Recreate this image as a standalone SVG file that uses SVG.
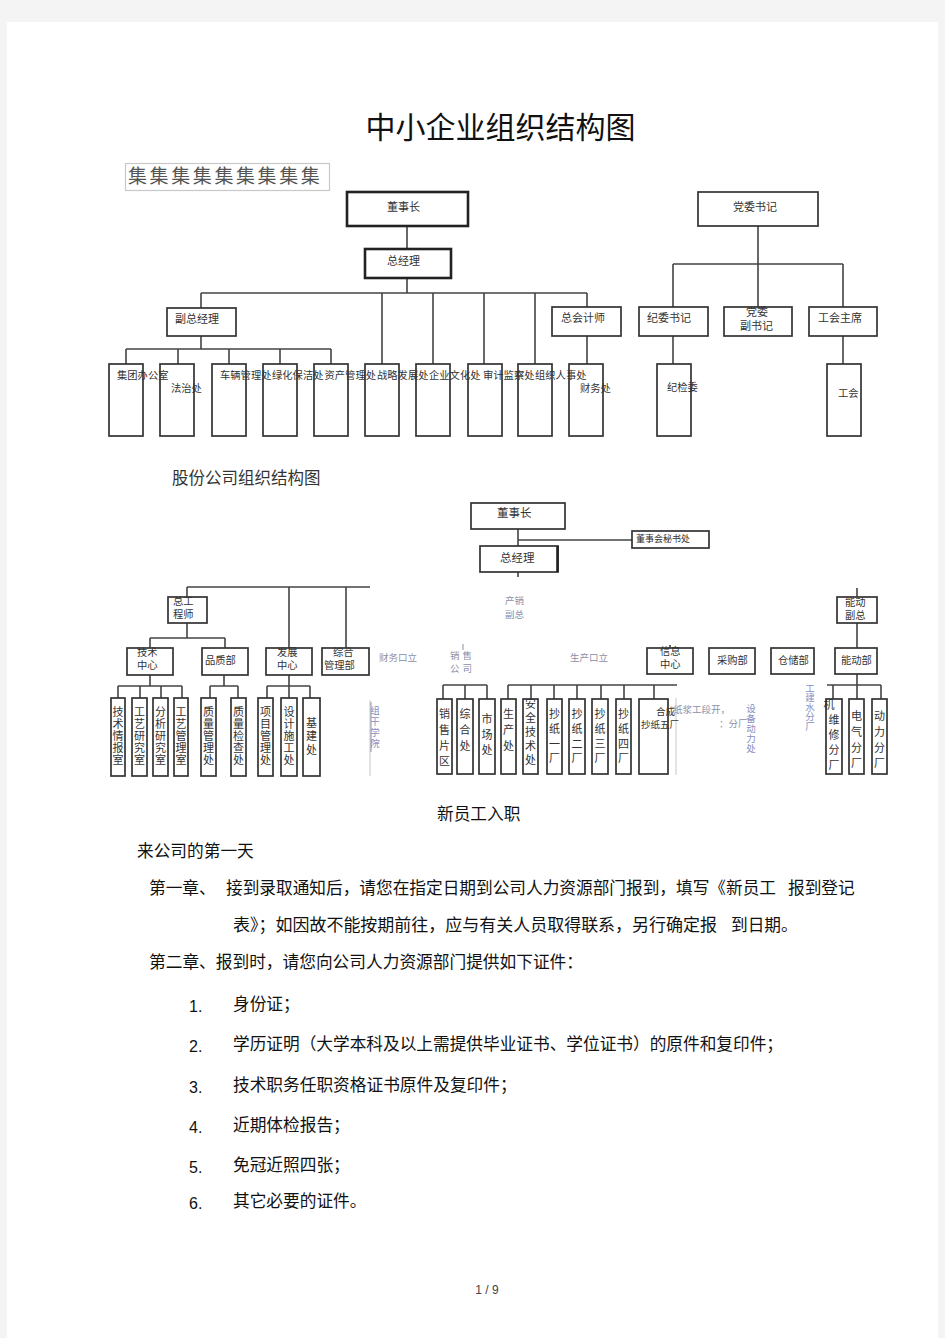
<svg xmlns="http://www.w3.org/2000/svg" width="945" height="1338" viewBox="0 0 945 1338">
<style>
.bx{fill:#fff;stroke:#333;stroke-width:1.7}
.bk{fill:#fff;stroke:#222;stroke-width:2.6}
.ln{stroke:#444;stroke-width:1.6;fill:none}
.fl{stroke:#c8c8c8;stroke-width:1;fill:none}
.t{font-family:"Noto Sans CJK SC","Noto Sans CJK JP",sans-serif;fill:#333}
.s10{font-size:10.3px}
.s11{font-size:11px}
.v{font-family:"Noto Sans CJK SC",sans-serif;fill:#333;font-size:11px;text-anchor:middle}
.fd{font-family:"Noto Sans CJK SC",sans-serif;fill:#8c8fa8;font-size:9.5px}
.fv{font-family:"Noto Sans CJK SC",sans-serif;fill:#8a8fc0;font-size:9.5px;text-anchor:middle}
.bt{font-family:"Noto Sans CJK SC",sans-serif;fill:#111;font-size:16.7px}
.nm{font-family:"Liberation Sans",sans-serif;fill:#111;font-size:16px}
</style>
<rect x="0" y="0" width="945" height="1338" fill="#f4f4f4"/>
<rect x="7" y="22" width="931" height="1316" fill="#fff"/>

<text class="t" x="500.5" y="138" font-size="30" text-anchor="middle" style="fill:#111">中小企业组织结构图</text>

<g id="legend">
<rect x="125.5" y="163.5" width="204" height="27" fill="#fff" stroke="#c8c8c8" stroke-width="1.2"/>
<text class="t" x="128" y="183" font-size="19" letter-spacing="2.6" style="fill:#555">集集集集集集集集集</text>
</g>

<g id="connectors">
<path class="ln" d="M407,226V249M407,278V293M201,293H587M201,293V308M382,293V364M433,293V364M484,293V364M535,293V364M587,293V307M201,336V349M126,349H331M126,349V364M178,349V364M229,349V364M280,349V364M331,349V364M587,336V364"/>
<path class="ln" d="M758,226V264M673,264H843M673,264V307M758,264V307M843,264V307M673,336V364M843,336V364"/>
<path class="ln" d="M518,529V546M518,540H632M518,572V577M187,587H370M187,587V597M289,587V648M346,587V648M187,623V638M150,638H225M150,638V648M225,638V648"/>
<path class="ln" d="M150,675V686M118,686H182M118,686V698M140,686V698M161,686V698M182,686V698M224,675V686M210,686H238M210,686V698M238,686V698M289,675V686M267,686H310M267,686V698M289,686V698M310,686V698"/>
<path class="ln" d="M443,685H487M443,685V699M465,685V699M487,685V699M508,685H677M508,685V699M531,685V699M554,685V699M577,685V699M601,685V699M624,685V699M654,685V699"/>
<path class="ln" d="M857,588V597M857,623V648M857,674V685M827,685H881M833,685V699M857,685V699M881,685V699M670,645V648"/>
<path class="fl" d="M370,700V776M676,698V775"/>
<path stroke="#8c8fa8" stroke-width="1" d="M463,644V650M371,702V752"/>
</g>

<g id="n-dongshizhang"><rect class="bk" x="347" y="192" width="121" height="34"/><text class="t s11" x="387" y="211">董事长</text></g>
<g id="n-zongjingli"><rect class="bk" x="365" y="249" width="86" height="29" stroke-width="2"/><text class="t s11" x="387" y="265">总经理</text></g>
<g id="n-fuzongjingli"><rect class="bx" x="167" y="308" width="69" height="28"/><text class="t s11" x="175" y="323">副总经理</text></g>
<g id="n-zongkuaijishi"><rect class="bx" x="552" y="307" width="69" height="29"/><text class="t s11" x="561" y="322">总会计师</text></g>
<g id="n-dangweishuji"><rect class="bx" x="698" y="192" width="120" height="34"/><text class="t s11" x="733" y="211">党委书记</text></g>
<g id="n-jiweishuji"><rect class="bx" x="639" y="307" width="69" height="29"/><text class="t s11" x="647" y="322">纪委书记</text></g>
<g id="n-dangweifushuji"><rect class="bx" x="724" y="307" width="68" height="29"/><text class="t s11" x="746" y="316">党委</text><text class="t s11" x="740" y="330">副书记</text></g>
<g id="n-gonghuizhuxi"><rect class="bx" x="809" y="307" width="68" height="29"/><text class="t s11" x="818" y="322">工会主席</text></g>

<g id="n-c1-boxes">
<rect class="bx" x="109" y="364" width="34" height="72"/>
<rect class="bx" x="160" y="364" width="34" height="72"/>
<rect class="bx" x="212" y="364" width="34" height="72"/>
<rect class="bx" x="263" y="364" width="34" height="72"/>
<rect class="bx" x="314" y="364" width="34" height="72"/>
<rect class="bx" x="365" y="364" width="34" height="72"/>
<rect class="bx" x="416" y="364" width="34" height="72"/>
<rect class="bx" x="468" y="364" width="34" height="72"/>
<rect class="bx" x="518" y="364" width="34" height="72"/>
<rect class="bx" x="569" y="364" width="34" height="72"/>
<rect class="bx" x="657" y="364" width="34" height="72"/>
<rect class="bx" x="827" y="364" width="34" height="72"/>
</g>
<g id="n-c1-labels">
<text class="t s10" x="117" y="379">集团办公室</text>
<text class="t s10" x="171" y="392">法治处</text>
<text class="t s10" x="220" y="379">车辆管理处</text>
<text class="t s10" x="272" y="379">绿化保洁处</text>
<text class="t s10" x="324.5" y="379">资产管理处</text>
<text class="t s10" x="377" y="379">战略发展处</text>
<text class="t s10" x="429" y="379">企业文化处</text>
<text class="t s10" x="483" y="379">审计监察处</text>
<text class="t s10" x="535" y="379">组织人事处</text>
<text class="t s10" x="580" y="392">财务处</text>
<text class="t s10" x="667" y="391">纪检委</text>
<text class="t s10" x="838" y="397">工会</text>
</g>

<text class="t" x="172" y="484" font-size="16.5">股份公司组织结构图</text>

<g id="n2-dongshizhang"><rect class="bx" x="471" y="503" width="94" height="26"/><text class="t" font-size="11.5" x="497" y="517">董事长</text></g>
<g id="n2-mishuchu"><rect class="bx" x="632" y="531" width="77" height="17" stroke-width="1.3"/><text class="t" font-size="9" x="636" y="542">董事会秘书处</text></g>
<g id="n2-zongjingli"><rect class="bx" x="480" y="546" width="78" height="26"/><line x1="557.5" y1="546" x2="557.5" y2="572" stroke="#222" stroke-width="2.6"/><text class="t" font-size="11.5" x="500" y="562">总经理</text></g>
<g id="n2-zonggongchengshi"><rect class="bx" x="168" y="597" width="39" height="26"/><text class="t s10" x="173" y="605">总工</text><text class="t s10" x="173" y="618">程师</text></g>
<g id="n2-jishuzhongxin"><rect class="bx" x="127" y="648" width="46" height="27"/><text class="t s10" x="137" y="656">技术</text><text class="t s10" x="137" y="669">中心</text></g>
<g id="n2-pinzhibu"><rect class="bx" x="202" y="648" width="46" height="27"/><text class="t s10" x="205" y="664">品质部</text></g>
<g id="n2-fazhanzhongxin"><rect class="bx" x="266" y="648" width="46" height="27"/><text class="t s10" x="277" y="656">发展</text><text class="t s10" x="277" y="669">中心</text></g>
<g id="n2-zongheguanlibu"><rect class="bx" x="322" y="648" width="47" height="27"/><text class="t s10" x="333" y="656">综合</text><text class="t s10" x="324" y="669">管理部</text></g>
<g id="n2-xinxizhongxin"><rect class="bx" x="647" y="648" width="46" height="26"/><text class="t s10" x="660" y="655">信息</text><text class="t s10" x="660" y="668">中心</text></g>
<g id="n2-caigoubu"><rect class="bx" x="709" y="648" width="46" height="26"/><text class="t s10" x="717" y="664">采购部</text></g>
<g id="n2-cangchubu"><rect class="bx" x="771" y="648" width="43" height="26"/><text class="t s10" x="778" y="664">仓储部</text></g>
<g id="n2-nengdongbu"><rect class="bx" x="835" y="648" width="42" height="26"/><text class="t s10" x="841" y="664">能动部</text></g>
<g id="n2-nengdongfuzong"><rect class="bx" x="837" y="597" width="40" height="26"/><text class="t s10" x="845" y="606">能动</text><text class="t s10" x="845" y="619">副总</text></g>

<g id="n2-left-boxes">
<rect class="bx" x="111" y="698" width="14" height="78"/>
<rect class="bx" x="132" y="698" width="15" height="78"/>
<rect class="bx" x="153" y="698" width="15" height="78"/>
<rect class="bx" x="174" y="698" width="14" height="78"/>
<rect class="bx" x="201" y="698" width="15" height="78"/>
<rect class="bx" x="231" y="698" width="15" height="78"/>
<rect class="bx" x="258" y="698" width="15" height="78"/>
<rect class="bx" x="281" y="698" width="16" height="78"/>
<rect class="bx" x="303" y="698" width="17" height="78"/>
<text class="v" x="118 118 118 118 118" y="716 728 740 752 764">技术情报室</text>
<text class="v" x="139.5 139.5 139.5 139.5 139.5" y="716 728 740 752 764">工艺研究室</text>
<text class="v" x="160.5 160.5 160.5 160.5 160.5" y="716 728 740 752 764">分析研究室</text>
<text class="v" x="181 181 181 181 181" y="716 728 740 752 764">工艺管理室</text>
<text class="v" x="208.5 208.5 208.5 208.5 208.5" y="716 728 740 752 764">质量管理处</text>
<text class="v" x="238.5 238.5 238.5 238.5 238.5" y="716 728 740 752 764">质量检查处</text>
<text class="v" x="265.5 265.5 265.5 265.5 265.5" y="716 728 740 752 764">项目管理处</text>
<text class="v" x="289 289 289 289 289" y="716 728 740 752 764">设计施工处</text>
<text class="v" x="311.5 311.5 311.5" y="727 740 754">基建处</text>
</g>

<g id="n2-right-boxes">
<rect class="bx" x="437" y="699" width="15" height="75"/>
<rect class="bx" x="457" y="699" width="16" height="75"/>
<rect class="bx" x="479" y="699" width="16" height="75"/>
<rect class="bx" x="501" y="699" width="15" height="75"/>
<rect class="bx" x="523" y="699" width="15" height="75"/>
<rect class="bx" x="547" y="699" width="15" height="75"/>
<rect class="bx" x="569" y="699" width="16" height="75"/>
<rect class="bx" x="592" y="699" width="16" height="75"/>
<rect class="bx" x="616" y="699" width="15" height="75"/>
<rect class="bx" x="639" y="699" width="29" height="75"/>
<rect class="bx" x="826" y="699" width="16" height="75"/>
<rect class="bx" x="849" y="699" width="15" height="75"/>
<rect class="bx" x="872" y="699" width="15" height="75"/>
<text class="v" font-size="12" x="444.5 444.5 444.5 444.5" y="718 734 750 765">销售片区</text>
<text class="v" font-size="12" x="465 465 465" y="718 734 750">综合处</text>
<text class="v" font-size="12" x="487 487 487" y="723 739 754">市场处</text>
<text class="v" font-size="12" x="508.5 508.5 508.5" y="718 734 750">生产处</text>
<text class="v" font-size="12" x="530.5 530.5 530.5 530.5 530.5" y="708 722 736 750 764">安全技术处</text>
<text class="v" font-size="12" x="554.5 554.5 554.5 554.5" y="718 733 748 762">抄纸一厂</text>
<text class="v" font-size="12" x="577 577 577 577" y="718 733 748 762">抄纸二厂</text>
<text class="v" font-size="12" x="600 600 600 600" y="718 733 748 762">抄纸三厂</text>
<text class="v" font-size="12" x="623.5 623.5 623.5 623.5" y="718 733 748 762">抄纸四厂</text>
<text class="t" font-size="9.5" x="641" y="728">抄纸五厂</text>
<text class="t" font-size="9.5" x="656" y="715">合成</text>
<text class="v" font-size="11" x="829" y="709">机</text>
<text class="v" font-size="12" x="834 834 834 834" y="724 739 754 769">维修分厂</text>
<text class="v" font-size="12" x="856.5 856.5 856.5 856.5" y="720 736 752 767">电气分厂</text>
<text class="v" font-size="12" x="879.5 879.5 879.5 879.5" y="720 736 752 767">动力分厂</text>
</g>

<g id="faded-labels">
<text class="fd" x="379" y="661">财务口立</text>
<text class="fd" font-size="9" x="505" y="604">产销</text>
<text class="fd" font-size="9" x="505" y="618">副总</text>
<text class="fd" font-size="9" x="450" y="659" letter-spacing="3">销售</text>
<text class="fd" font-size="9" x="450" y="672" letter-spacing="3">公司</text>
<text class="fd" x="570" y="661">生产口立</text>
<text class="fv" font-size="10" x="375 375 375 375" y="714 725 736 747">组干学院</text>
<text class="fd" font-size="7" x="673" y="713">纸浆工段开，</text>
<text class="fd" font-size="7" x="719" y="727">：分厂</text>
<text class="fv" font-size="9" x="751 751 751 751 751" y="712 722 732 742 752">设备动力处</text>
<text class="fv" x="810 810 810 810 810" y="692 701 711 720 730">工建水分厂</text>
</g>

<g id="body-text">
<text class="bt" x="437" y="820">新员工入职</text>
<text class="bt" x="137" y="857">来公司的第一天</text>
<text class="bt" x="149" y="894">第一章、</text>
<text class="bt" x="226" y="894" textLength="550" lengthAdjust="spacingAndGlyphs">接到录取通知后，请您在指定日期到公司人力资源部门报到，填写《新员工</text>
<text class="bt" x="788" y="894">报到登记</text>
<text class="bt" x="233" y="931" textLength="484" lengthAdjust="spacingAndGlyphs">表》；如因故不能按期前往，应与有关人员取得联系，另行确定报</text>
<text class="bt" x="731" y="931">到日期。</text>
<text class="bt" x="149" y="968" textLength="434" lengthAdjust="spacingAndGlyphs">第二章、报到时，请您向公司人力资源部门提供如下证件：</text>
<text class="nm" x="189" y="1012">1.</text>
<text class="bt" x="233" y="1010">身份证；</text>
<text class="nm" x="189" y="1052">2.</text>
<text class="bt" x="233" y="1050" textLength="550" lengthAdjust="spacingAndGlyphs">学历证明（大学本科及以上需提供毕业证书、学位证书）的原件和复印件；</text>
<text class="nm" x="189" y="1093">3.</text>
<text class="bt" x="233" y="1091">技术职务任职资格证书原件及复印件；</text>
<text class="nm" x="189" y="1133">4.</text>
<text class="bt" x="233" y="1131">近期体检报告；</text>
<text class="nm" x="189" y="1173">5.</text>
<text class="bt" x="233" y="1171">免冠近照四张；</text>
<text class="nm" x="189" y="1209">6.</text>
<text class="bt" x="233" y="1207">其它必要的证件。</text>
<text x="487" y="1294" font-family="Liberation Sans, sans-serif" font-size="12" fill="#444" text-anchor="middle">1 / 9</text>
</g>
</svg>
